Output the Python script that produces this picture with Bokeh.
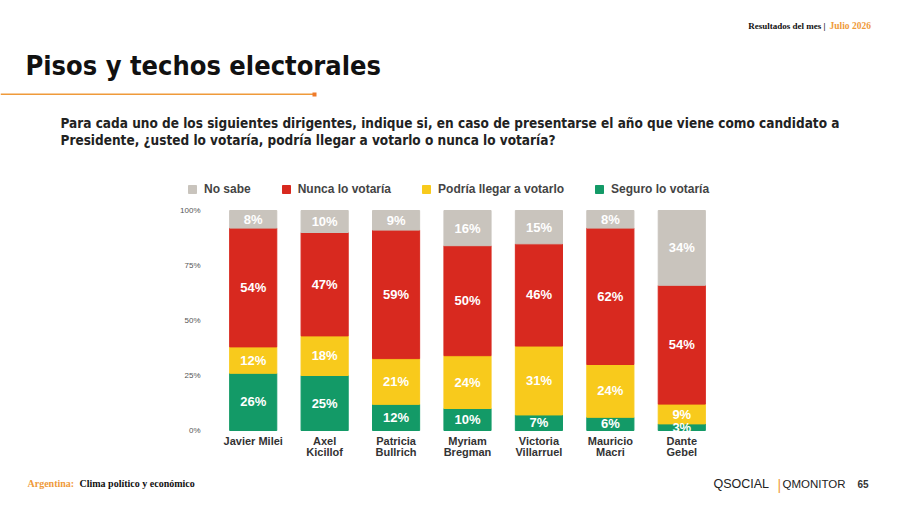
from bokeh.plotting import figure
from bokeh.models import (ColumnDataSource, FactorRange, Range1d, Legend, LegendItem,
                          Label, BoxAnnotation, FixedTicker, CategoricalAxis)
from bokeh.core.properties import value
from bokeh.embed import file_html
from bokeh.resources import INLINE
import numpy as np

# ---------------- data ----------------
candidates = ["Javier Milei", "Axel Kicillof", "Patricia Bullrich", "Myriam Bregman",
              "Victoria Villarruel", "Mauricio Macri", "Dante Gebel"]
label_line1 = ["Javier Milei", "Axel", "Patricia", "Myriam", "Victoria", "Mauricio", "Dante"]
label_line2 = [" ", "Kicillof", "Bullrich", "Bregman", "Villarruel", "Macri", "Gebel"]
seguro = [26, 25, 12, 10, 7, 6, 3]
podria = [12, 18, 21, 24, 31, 24, 9]
nunca = [54, 47, 59, 50, 46, 62, 54]
no_sabe = [8, 10, 9, 16, 15, 8, 34]
series_names = ["Seguro lo votaría", "Podría llegar a votarlo", "Nunca lo votaría", "No sabe"]
y_ticks = [0, 25, 50, 75, 100]
y_tick_labels = ["0%", "25%", "50%", "75%", "100%"]

colors = ["#139a67", "#f8ca1c", "#d8291f", "#c9c4bd"]
ORANGE = "#ef9a3a"
TITLE_FONT = "DejaVu Sans Condensed, Liberation Sans, sans-serif"

# ---------------- layout constants ----------------
W = 900
HEAD_H, CHART_H, FOOT_H = 178, 287, 40
FL, FR = 178, 756          # chart frame left/right (canvas px)
PX_PER_PCT = 2.2           # 100% spans 220 px
ZERO_Y = 430 - HEAD_H      # y of 0% inside the chart figure
FB_LOCAL = ZERO_Y + 8      # frame bottom a little below 0%
BAR_L, BAR_R = 217, 717    # extent of the 7 category slots


def blank(h):
    f = figure(width=W, height=h, x_range=(0, W), y_range=(0, h),
               output_backend="svg", toolbar_location=None, x_axis_location=None,
               y_axis_location=None, min_border=0, outline_line_color=None,
               background_fill_color="white", border_fill_color="white")
    f.title = None
    f.xgrid.visible = False
    f.ygrid.visible = False
    return f


def lab(fig, fh, text, cx, cy, size, color="#111111", font="Liberation Sans",
        style="bold", align="left"):
    fig.add_layout(Label(x=cx, y=fh - cy, x_units="screen", y_units="screen",
                         text=text, text_font=font, text_font_size=size,
                         text_font_style=style, text_color=color, text_align=align,
                         text_baseline="alphabetic"))


# ---------------- header ----------------
head = blank(HEAD_H)
lab(head, HEAD_H, "Pisos y techos electorales", 25, 65, "27px", font=TITLE_FONT)
lab(head, HEAD_H, "Para cada uno de los siguientes dirigentes, indique si, en caso de presentarse el año que viene como candidato a",
    60, 122, "13.5px", color="#222222", font=TITLE_FONT)
lab(head, HEAD_H, "Presidente, ¿usted lo votaría, podría llegar a votarlo o nunca lo votaría?",
    60, 139, "13.5px", color="#222222", font=TITLE_FONT)
lab(head, HEAD_H, "Resultados del mes |", 825, 25, "9px", font="Liberation Serif", align="right")
lab(head, HEAD_H, "Julio  2026", 829, 25, "9.5px", color=ORANGE, font="Liberation Serif")

head.add_layout(BoxAnnotation(left=0, right=313, bottom=HEAD_H - 94.5, top=HEAD_H - 93,
                              left_units="screen", right_units="screen",
                              bottom_units="screen", top_units="screen",
                              fill_color=ORANGE, fill_alpha=1, line_color=None))
head.add_layout(BoxAnnotation(left=312, right=316, bottom=HEAD_H - 96, top=HEAD_H - 92,
                              left_units="screen", right_units="screen",
                              bottom_units="screen", top_units="screen",
                              fill_color="#ef7a2a", fill_alpha=1, line_color=None))

# ---------------- chart ----------------
slot = (BAR_R - BAR_L) / len(candidates)
pad_units = (BAR_L - FL) / slot           # padding applied on each side
y_top = ZERO_Y / PX_PER_PCT
y_bot = -(FB_LOCAL - ZERO_Y) / PX_PER_PCT


def frange(factors):
    return FactorRange(*factors, range_padding=pad_units, range_padding_units="absolute")


p = figure(width=W, height=CHART_H, x_range=frange(candidates),
           y_range=Range1d(y_bot, y_top), output_backend="svg", toolbar_location=None,
           x_axis_location=None,
           min_border_left=FL, min_border_right=W - FR, min_border_top=0,
           min_border_bottom=CHART_H - FB_LOCAL, background_fill_color="white",
           border_fill_color="white", outline_line_color=None)
p.title = None
p.extra_x_ranges = {"l1": frange(label_line1), "l2": frange(label_line2)}

vals = np.array([seguro, podria, nunca, no_sabe], dtype=float)
norm = vals / vals.sum(axis=0) * 100  # bars drawn to a full 100%
keys = ["seguro", "podria", "nunca", "nosabe"]
src = ColumnDataSource(dict(cand=candidates, **{k: norm[i] for i, k in enumerate(keys)}))
rs = p.vbar_stack(keys, x="cand", width=0.66, color=colors, source=src)

cum = np.cumsum(norm, axis=0)
mids = cum - norm / 2
tx, ty, tt = [], [], []
for i in range(4):
    for j, c in enumerate(candidates):
        tx.append(c)
        ty.append(mids[i, j])
        tt.append(f"{int(vals[i, j])}%")
p.text(x=tx, y=ty, text=tt, text_color="white", text_font=value("Liberation Sans"),
       text_font_style="bold", text_font_size="13px", text_align="center",
       text_baseline="middle")

p.xgrid.grid_line_color = None
p.ygrid.grid_line_color = None

ax1 = CategoricalAxis(x_range_name="l1")
ax2 = CategoricalAxis(x_range_name="l2")
p.add_layout(ax1, "below")
p.add_layout(ax2, "below")
for ax, so in ((ax1, -4), (ax2, -4)):
    ax.axis_line_color = None
    ax.major_tick_line_color = None
    ax.minor_tick_line_color = None
    ax.major_tick_out = 0
    ax.major_tick_in = 0
    ax.major_label_text_font = "Liberation Sans"
    ax.major_label_text_font_style = "bold"
    ax.major_label_text_font_size = "11px"
    ax.major_label_text_color = "#333333"
    ax.major_label_standoff = so

yax = p.yaxis[0]
yax.axis_line_color = None
yax.major_tick_line_color = None
yax.minor_tick_line_color = None
yax.major_tick_out = 0
yax.major_tick_in = 0
yax.ticker = FixedTicker(ticks=y_ticks)
yax.major_label_overrides = dict(zip(y_ticks, y_tick_labels))
yax.major_label_text_font = "Liberation Sans"
yax.major_label_text_font_size = "8px"
yax.major_label_text_color = "#555555"
yax.major_label_standoff = -22

items = [LegendItem(label=series_names[i], renderers=[rs[i]]) for i in [3, 2, 1, 0]]
leg = Legend(items=items, orientation="horizontal",
             location=(187 - FL, FB_LOCAL - (196 - HEAD_H)),
             padding=0, margin=0, spacing=30, label_standoff=7, glyph_width=10,
             glyph_height=10, label_height=12, border_line_color=None,
             background_fill_alpha=0, label_text_font="Liberation Sans",
             label_text_font_style="bold", label_text_font_size="12px",
             label_text_color="#444444")
p.add_layout(leg, "center")

# ---------------- footer ----------------
foot = blank(FOOT_H)
FT0 = HEAD_H + CHART_H
lab(foot, FOOT_H, "Argentina:", 27, 483 - FT0, "10px", color=ORANGE, font="Liberation Serif")
lab(foot, FOOT_H, "Clima político y  económico", 79, 483 - FT0, "10px", font="Liberation Serif")
lab(foot, FOOT_H, "QSOCIAL", 713, 483 - FT0, "12.5px", color="#222222", style="normal")
lab(foot, FOOT_H, "|", 777, 484 - FT0, "14px", color=ORANGE, style="normal")
lab(foot, FOOT_H, "QMONITOR", 782, 483 - FT0, "11.5px", color="#222222", style="normal")
lab(foot, FOOT_H, "65", 857, 483 - FT0, "10px", color="#333333")

open("out.html", "w").write(file_html([head, p, foot], INLINE))
